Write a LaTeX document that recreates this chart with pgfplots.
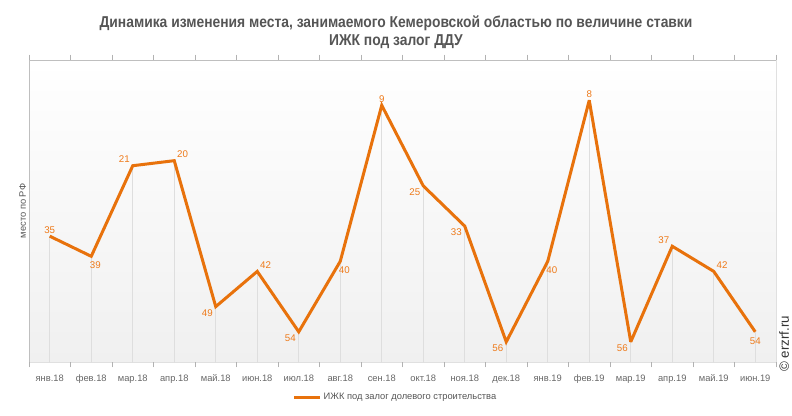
\documentclass[border=0pt]{standalone}
\usepackage{fontspec}
\setmainfont{Liberation Sans}
\newfontfamily\titlefont[FakeStretch=0.88]{Liberation Sans}
\usepackage{pgfplots}
\pgfplotsset{compat=1.18}
\usepackage{pgfplotstable}
\definecolor{lineorange}{RGB}{232,114,12}
\definecolor{lblorange}{RGB}{238,122,26}
\definecolor{txtgray}{RGB}{85,85,85}
\definecolor{tickgray}{RGB}{102,102,102}
\definecolor{bglow}{RGB}{240,240,240}

\pgfplotstableread{
x r
0 35
1 39
2 21
3 20
4 49
5 42
6 54
7 40
8 9
9 25
10 33
11 56
12 40
13 8
14 56
15 37
16 42
17 54
}\data

\pgfplotsset{lbl/.style={draw=none, mark=none, forget plot, nodes near coords, point meta=explicit,
  every node near coord/.append style={anchor=#1, font=\fontsize{7.3}{9}\selectfont, text=lblorange, inner sep=2pt}}}

\begin{document}
\begin{tikzpicture}
\useasboundingbox (0,0) rectangle (594pt,311.25pt);
\node[font=\titlefont\bfseries\fontsize{11.8}{13.5}\selectfont, text=txtgray, align=center] at (297pt,287pt)
  {Динамика изменения места, занимаемого Кемеровской областью по величине ставки\\ИЖК под залог ДДУ};
\node[rotate=90, anchor=west, font=\fontsize{10}{12}\selectfont, text=black!80, inner sep=0pt] at (588pt,32.25pt) {© erzrf.ru};
\begin{axis}[
  at={(21.75pt,39.75pt)}, anchor=south west,
  scale only axis, width=560.25pt, height=226.5pt,
  xmin=-0.5, xmax=17.5, ymin=0, ymax=60,
  y dir=reverse,
  /pgf/number format/assume math mode=true,
  axis background/.style={shade, top color=white, bottom color=bglow},
  axis line style={draw=black!12, line width=0.6pt},
  xtick={0,...,17},
  xticklabels={янв.18,фев.18,мар.18,апр.18,май.18,июн.18,июл.18,авг.18,сен.18,окт.18,ноя.18,дек.18,янв.19,фев.19,мар.19,апр.19,май.19,июн.19},
  xticklabel style={font=\fontsize{7}{9}\selectfont, text=tickgray, anchor=base, yshift=-14.5pt},
  major x tick style={draw=none},
  extra x ticks={-0.5,0.5,...,17.5},
  extra x tick labels={},
  extra x tick style={major tick length=4pt, tick align=outside, major x tick style={draw=black!30, line width=0.6pt}},
  ytick=\empty,
  ylabel={место по РФ},
  ylabel style={at={(rel axis cs:0,0.5)}, anchor=south, inner sep=2pt, font=\fontsize{7}{8}\selectfont, text=txtgray},
  legend style={at={(rel axis cs:0.5,0)}, anchor=center, yshift=-26.5pt, xshift=-5pt, draw=none, fill=none,
    font=\fontsize{7}{8}\selectfont, text=txtgray, legend cell align=left},
  legend image code/.code={\draw[lineorange, line width=2.25pt] (0pt,0pt) -- (19pt,0pt);},
]
\addplot[draw=none, mark=none, forget plot,
  error bars/.cd, y dir=plus, y fixed=80, error mark=none,
  error bar style={draw=black!13, line width=0.8pt}]
  table[x=x, y=r]{\data};
\addplot[lineorange, line width=2.25pt, mark=none, line join=miter, miter limit=3]
  table[x=x, y=r]{\data};
\addlegendentry{ИЖК под залог долевого строительства}
\addplot[lbl=south] coordinates {(0,35) [35] (8,9) [9] (13,8) [8]};
\addplot[lbl=north, every node near coord/.append style={xshift=3pt, yshift=-2pt}] coordinates {(1,39) [39] (7,40) [40] (12,40) [40]};
\addplot[lbl=north, every node near coord/.append style={yshift=-2pt}] coordinates {(17,54) [54]};
\addplot[lbl=south east] coordinates {(2,21) [21] (15,37) [37]};
\addplot[lbl=south west] coordinates {(3,20) [20] (5,42) [42] (16,42) [42]};
\addplot[lbl=north east] coordinates {(4,49) [49] (6,54) [54] (9,25) [25] (10,33) [33] (11,56) [56] (14,56) [56]};
\draw[black!25, line width=1.5pt] (rel axis cs:0,0) -- (rel axis cs:0,1);
\draw[black!25, line width=0.8pt] (rel axis cs:0,1) -- (rel axis cs:1,1);
\end{axis}
\end{tikzpicture}
\end{document}
